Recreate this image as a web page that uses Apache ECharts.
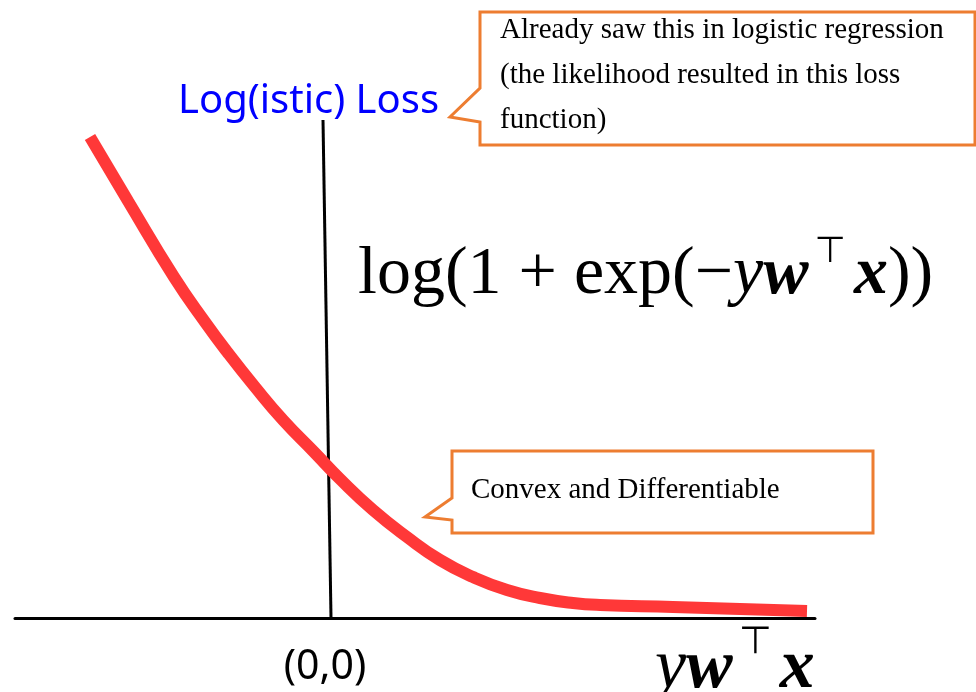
<!DOCTYPE html>
<html>
<head>
<meta charset="utf-8">
<title>Logistic loss</title>
<script src="https://cdn.jsdelivr.net/npm/echarts@6/dist/echarts.min.js"></script>
<style>
  html, body { margin: 0; padding: 0; background: #fff; }
  #main { width: 976px; height: 692px; }
</style>
</head>
<body>
<div id="main"></div>
<script>
// curve (x = y*w'x, y = loss), origin at (0,0)
var lossX = [-2.41, -2.03, -1.57, -1.26, -1.03, -0.76, -0.48, -0.16, 0.09, 0.42, 0.76, 1.09, 1.42, 1.76, 2.09, 2.42, 2.69, 3.42, 4.76];
var lossY = [4.81, 4.17, 3.41, 2.96, 2.65, 2.31, 1.98, 1.65, 1.39, 1.08, 0.81, 0.58, 0.41, 0.28, 0.20, 0.15, 0.13, 0.11, 0.07];
// hand drawn vertical axis, slightly leaning
var vAxisX = [-0.08, 0];
var vAxisY = [4.98, 0];
var xRange = [-3.16, 4.84];
var yRange = [0, 5];

var chart = echarts.init(document.getElementById('main'));

function pairs(xs, ys) {
  var out = [];
  for (var i = 0; i < xs.length; i++) {
    out.push([xs[i], ys[i]]);
  }
  return out;
}

var orange = '#ed7d31';

var option = {
  backgroundColor: '#fff',
  animation: false,
  grid: { left: 15, right: 161, top: 118, bottom: 74 },
  xAxis: {
    type: 'value',
    min: xRange[0],
    max: xRange[1],
    axisLine: { show: true, onZero: true, lineStyle: { color: '#000', width: 3 } },
    axisTick: { show: false },
    axisLabel: { show: false },
    splitLine: { show: false }
  },
  yAxis: {
    type: 'value',
    min: yRange[0],
    max: yRange[1],
    axisLine: { show: false },
    axisTick: { show: false },
    axisLabel: { show: false },
    splitLine: { show: false }
  },
  series: [
    {
      name: 'axis',
      type: 'line',
      data: pairs(vAxisX, vAxisY),
      symbol: 'none',
      lineStyle: { color: '#000', width: 3 },
      z: 1
    },
    {
      name: 'loss',
      type: 'line',
      data: pairs(lossX, lossY),
      smooth: 0.5,
      symbol: 'none',
      lineStyle: { color: '#ff3838', width: 12, cap: 'butt' },
      z: 3
    }
  ],
  graphic: [
    {
      type: 'text',
      style: {
        x: 178, y: 102,
        text: 'Log(istic) Loss',
        fill: '#0000ff',
        font: '40px "Noto Sans"',
        verticalAlign: 'middle'
      }
    },
    {
      type: 'polygon',
      shape: { points: [[480, 12], [975, 12], [975, 145], [480, 145], [480, 122], [450, 117], [480, 88]] },
      style: { fill: '#fff', stroke: orange, lineWidth: 3 }
    },
    {
      type: 'text',
      style: {
        text: 'Already saw this in logistic regression\n(the likelihood resulted in this loss\nfunction)',
        fill: '#000',
        font: '29px "Liberation Serif"',
        lineHeight: 45,
        verticalAlign: 'top'
      },
      top: 8, left: 500
    },
    {
      type: 'polygon',
      shape: { points: [[452, 451], [873, 451], [873, 533], [452, 533], [452, 520], [425, 517], [452, 498]] },
      style: { fill: '#fff', stroke: orange, lineWidth: 3 }
    },
    {
      type: 'text',
      style: {
        x: 471, y: 490,
        text: 'Convex and Differentiable',
        fill: '#000',
        font: '29px "Liberation Serif"',
        verticalAlign: 'middle'
      }
    },
    {
      type: 'text',
      style: {
        x: 358, y: 275,
        text: '{n|log(1 + exp(−}{i|y}{b|w}{s|⊤}{b|x}{n|))}',
        fill: '#000',
        verticalAlign: 'middle',
        rich: {
          n: { font: '68px "Liberation Serif"' },
          i: { font: 'italic 68px "Liberation Serif"' },
          b: { font: 'italic bold 68px "Liberation Serif"' },
          s: { font: '36px "DejaVu Sans"', padding: [0, 8, 44, 6] }
        }
      }
    },
    {
      type: 'text',
      style: {
        x: 325, y: 667,
        text: '(0,0)',
        fill: '#000',
        font: '41px "Noto Sans"',
        align: 'center',
        verticalAlign: 'middle'
      }
    },
    {
      type: 'text',
      style: {
        x: 655, y: 669,
        text: '{i|y}{b|w}{s|⊤}{b|x}',
        fill: '#000',
        verticalAlign: 'middle',
        rich: {
          i: { font: 'italic 70px "Liberation Serif"' },
          b: { font: 'italic bold 70px "Liberation Serif"' },
          s: { font: '38px "DejaVu Sans"', padding: [0, 8, 52, 6] }
        }
      }
    }
  ]
};

chart.setOption(option);
</script>
</body>
</html>
